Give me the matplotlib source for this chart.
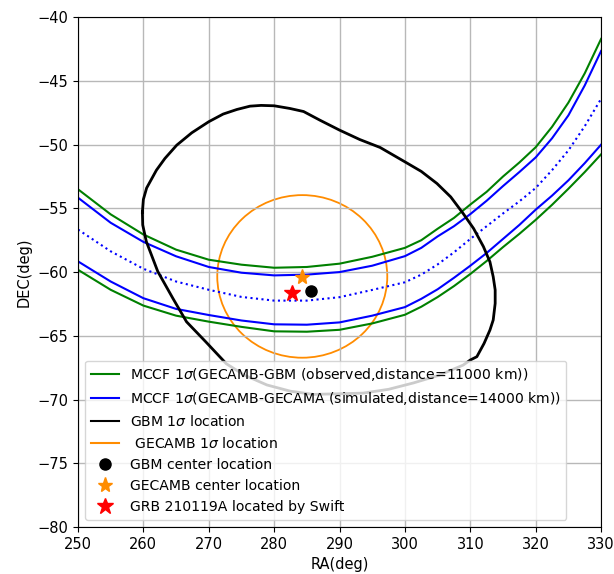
"""GRB 210119A localization: MCCF annuli vs GBM / GECAMB contours."""
import matplotlib
matplotlib.use('Agg')
import matplotlib.pyplot as plt
from matplotlib.lines import Line2D
from matplotlib.patches import Ellipse

# RA grid (deg) for the MCCF annulus edges
ra = [250, 255, 260, 265, 270, 275, 280, 285, 290, 295, 300,
      302.5, 305, 307.5, 310, 312.5, 315, 317.5, 320, 322.5, 325, 327.5, 330]

# GECAMB-GBM (observed) 1 sigma band
gbm_upper = [-53.5, -55.47, -57.05, -58.24, -59.03, -59.42, -59.66, -59.6, -59.34, -58.8, -58.1,
             -57.5, -56.6, -55.75, -54.7, -53.7, -52.5, -51.4, -50.2, -48.6, -46.7, -44.4, -41.7]
gbm_lower = [-59.82, -61.39, -62.63, -63.42, -63.89, -64.3, -64.65, -64.68, -64.53, -64.03, -63.35,
             -62.72, -61.96, -61.1, -60.15, -59.13, -58.04, -57.0, -55.9, -54.72, -53.46, -52.15, -50.76]

# GECAMB-GECAMA (simulated) 1 sigma band and centre line
sim_upper = [-54.16, -56.13, -57.63, -58.76, -59.6, -60.05, -60.26, -60.2, -60.0, -59.5, -58.75,
             -58.1, -57.2, -56.4, -55.45, -54.4, -53.25, -52.15, -51.0, -49.5, -47.7, -45.35, -42.65]
sim_center = [-56.66, -58.37, -59.74, -60.74, -61.39, -61.95, -62.24, -62.24, -61.97, -61.4, -60.8,
              -60.2, -59.4, -58.45, -57.4, -56.4, -55.4, -54.45, -53.4, -52.0, -50.45, -48.55, -46.4]
sim_lower = [-59.16, -60.74, -62.05, -62.89, -63.37, -63.8, -64.1, -64.13, -63.95, -63.42, -62.75,
             -62.1, -61.35, -60.45, -59.5, -58.5, -57.4, -56.3, -55.1, -54.0, -52.8, -51.45, -50.0]

# GBM 1 sigma contour (closed)
gbm_ra = [259.85, 260.0, 260.5, 262.0, 263.3, 265.1, 267.4, 270.0, 272.2, 274.3, 276.3, 278.0,
          280.0, 282.4, 284.5, 287.0, 290.0, 293.1, 296.2, 300.0, 302.5, 304.9, 307.0, 308.9,
          310.5, 312.0, 313.0, 313.5, 313.8, 313.8, 313.5, 313.0, 312.1, 311.0, 310.0, 308.9,
          305.2, 301.3, 297.5, 293.6, 286.0, 282.5, 278.9, 275.5, 272.7, 269.5, 266.6, 264.5,
          262.2, 260.45, 259.9, 259.85]
gbm_dec = [-55.3, -54.3, -53.4, -52.0, -51.08, -50.04, -49.07, -48.2, -47.6, -47.24, -46.98, -46.92,
           -46.95, -47.16, -47.4, -48.08, -48.86, -49.6, -50.22, -51.35, -52.1, -53.05, -54.1, -55.4,
           -56.58, -58.0, -59.2, -60.37, -61.4, -62.46, -63.76, -64.55, -65.6, -66.64, -66.9, -67.3,
           -68.1, -68.7, -69.2, -69.5, -69.6, -69.35, -68.86, -68.1, -67.2, -65.45, -63.9, -62.05,
           -59.95, -57.6, -56.3, -55.3]

# GECAMB 1 sigma region: centre and extent (deg)
gecamb_center = (284.3, -60.34)
gecamb_width = 26.0
gecamb_height = 12.76

# point sources
gbm_pos = (285.7, -61.5)
gecamb_pos = (284.2, -60.37)
swift_pos = (282.8, -61.67)

fig, ax = plt.subplots(figsize=(6.14, 5.74), dpi=100)
fig.subplots_adjust(left=0.127, right=0.979, top=0.970, bottom=0.082)

ax.plot(ra, gbm_upper, color='green', lw=1.5)
ax.plot(ra, gbm_lower, color='green', lw=1.5)
ax.plot(ra, sim_upper, color='blue', lw=1.5)
ax.plot(ra, sim_lower, color='blue', lw=1.5)
ax.plot(ra, sim_center, color='blue', lw=1.5, ls=':')
ax.plot(gbm_ra, gbm_dec, color='black', lw=2, solid_joinstyle='round')
ax.add_patch(Ellipse(gecamb_center, gecamb_width, gecamb_height,
                     fill=False, edgecolor='darkorange', lw=1.3))

ax.plot(*gbm_pos, 'o', color='black', ms=8)
ax.plot(*gecamb_pos, '*', color='darkorange', ms=11)
ax.plot(*swift_pos, '*', color='red', ms=12)

handles = [
    Line2D([], [], color='green', lw=1.5),
    Line2D([], [], color='blue', lw=1.5),
    Line2D([], [], color='black', lw=1.5),
    Line2D([], [], color='darkorange', lw=1.5),
    Line2D([], [], ls='', marker='o', color='black', ms=8),
    Line2D([], [], ls='', marker='*', color='darkorange', ms=11),
    Line2D([], [], ls='', marker='*', color='red', ms=12),
]
labels = [
    r'MCCF 1$\sigma$(GECAMB-GBM (observed,distance=11000 km))',
    r'MCCF 1$\sigma$(GECAMB-GECAMA (simulated,distance=14000 km))',
    r'GBM 1$\sigma$ location',
    r' GECAMB 1$\sigma$ location',
    'GBM center location',
    'GECAMB center location',
    'GRB 210119A located by Swift',
]
ax.legend(handles, labels, loc='lower left', fontsize=10.1)

ax.set_xlim(250, 330)
ax.set_ylim(-80, -40)
ax.set_xticks(range(250, 331, 10))
ax.set_yticks(range(-80, -39, 5))
ax.tick_params(labelsize=10.5)
ax.grid(True, color='#b8b8b8', lw=1.0)
ax.set_xlabel('RA(deg)', fontsize=10.5)
ax.set_ylabel('DEC(deg)', fontsize=10.5)

fig.savefig('out.png', dpi=100)
